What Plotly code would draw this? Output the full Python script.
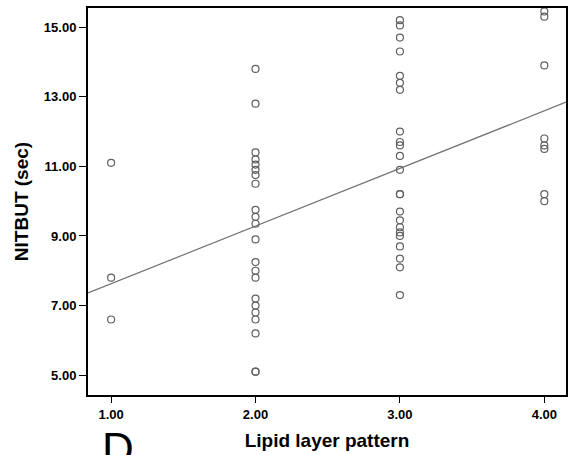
import numpy as np
import plotly.graph_objects as go

# Data
x1_vals = [11.1, 7.8, 6.6]
x2_vals = [13.8, 12.8, 11.4, 11.2, 11.05, 10.9, 10.75, 10.5, 9.75, 9.55, 9.35, 8.9,
           8.25, 8.0, 7.8, 7.2, 7.0, 6.8, 6.6, 6.2, 5.1, 5.1]
x3_vals = [15.2, 15.05, 14.7, 14.3, 13.6, 13.4, 13.2, 12.0, 11.7, 11.6, 11.3, 10.9,
           10.2, 10.2, 9.7, 9.45, 9.25, 9.1, 9.0, 8.7, 8.35, 8.1, 7.3]
x4_vals = [15.45, 15.3, 13.9, 11.8, 11.6, 11.5, 10.2, 10.0]
groups = [1.0, 2.0, 3.0, 4.0]
x_ticks = [1, 2, 3, 4]
y_ticks = [5, 7, 9, 11, 13, 15]

xs, ys = [], []
for g, vals in zip(groups, [x1_vals, x2_vals, x3_vals, x4_vals]):
    xs += [g] * len(vals)
    ys += vals

x_range = [0.84, 4.15]
y_range = [4.43, 15.55]

slope, intercept = np.polyfit(xs, ys, 1)
fit_x = np.array(x_range)
fit_y = intercept + slope * fit_x

font_family = "Arial, Liberation Sans, sans-serif"

fig = go.Figure()
fig.add_trace(go.Scatter(
    x=fit_x, y=fit_y, mode="lines",
    line=dict(color="#707070", width=1.2), hoverinfo="skip", showlegend=False))
fig.add_trace(go.Scatter(
    x=xs, y=ys, mode="markers",
    marker=dict(symbol="circle-open", size=7, color="#606060", line=dict(width=1.2)),
    showlegend=False))

fig.update_layout(
    width=571, height=455,
    margin=dict(l=88, r=3, t=8, b=60),
    paper_bgcolor="white", plot_bgcolor="white",
    font=dict(family=font_family, color="black"),
    xaxis=dict(
        range=x_range, tickvals=x_ticks, ticktext=[f"{v:.2f}" for v in x_ticks],
        showgrid=False, zeroline=False, showline=True, mirror=True,
        linecolor="black", linewidth=2, ticks="outside", ticklen=6, tickcolor="black",
        tickwidth=1, tickfont=dict(size=13, family=font_family, weight="bold"),
        title=dict(text="<b>Lipid layer pattern</b>", font=dict(size=19), standoff=13),
    ),
    yaxis=dict(
        range=y_range, tickvals=y_ticks, ticktext=[f"{v:.2f}" for v in y_ticks],
        showgrid=False, zeroline=False, showline=True, mirror=True,
        linecolor="black", linewidth=2, ticks="outside", ticklen=7, tickcolor="black",
        tickwidth=1, tickfont=dict(size=13, family=font_family, weight="bold"),
        title=dict(text="<b>NITBUT (sec)</b>", font=dict(size=19), standoff=10),
    ),
)

fig.add_annotation(
    text="D", xref="paper", yref="paper", x=0.0625, y=-0.07, xanchor="center", yanchor="top",
    showarrow=False, font=dict(size=44, family=font_family, color="black"))

fig.write_html("out.html")
